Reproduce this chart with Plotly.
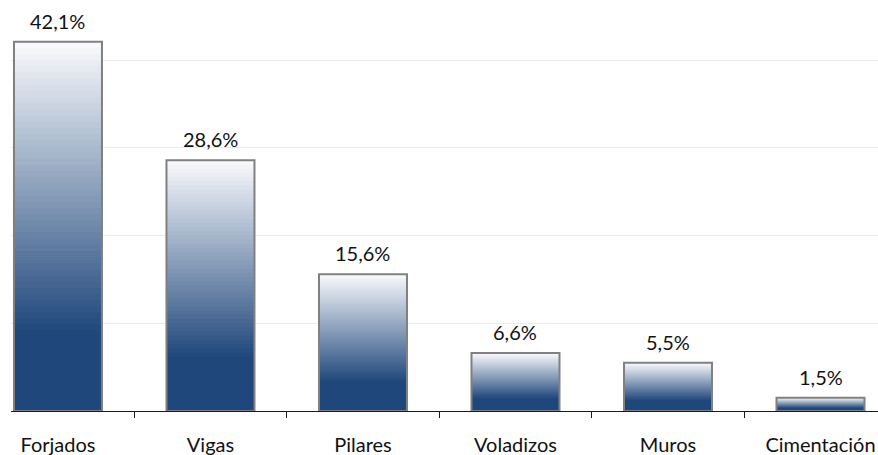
import plotly.graph_objects as go

categories = ["Forjados", "Vigas", "Pilares", "Voladizos", "Muros", "Cimentación"]
values = [42.1, 28.6, 15.6, 6.6, 5.5, 1.5]

TOP = (248, 249, 252)
DARK = (31, 71, 123)
SOLID_FRAC = 0.22
N = 60
BAR_W = 0.577
FONT = "Lato"

fig = go.Figure()

for k in range(N):
    frac = (N - k) / N  # top of this overlay bar as fraction of full height
    t = (frac - SOLID_FRAC) / (1 - SOLID_FRAC)
    t = max(0.0, min(1.0, t))
    c = tuple(round(DARK[i] + (TOP[i] - DARK[i]) * t) for i in range(3))
    fig.add_trace(go.Bar(
        x=categories,
        y=[v * frac for v in values],
        width=BAR_W,
        marker=dict(color="rgb(%d,%d,%d)" % c, line=dict(width=0)),
        hoverinfo="skip",
        showlegend=False,
    ))

fig.add_trace(go.Bar(
    x=categories,
    y=values,
    width=BAR_W,
    marker=dict(color="rgba(0,0,0,0)", line=dict(color="#808080", width=2)),
    hoverinfo="skip",
    showlegend=False,
))

for cat, v in zip(categories, values):
    fig.add_annotation(
        x=cat, y=v,
        text=("%.1f" % v).replace(".", ",") + "%",
        showarrow=False,
        yanchor="bottom",
        yshift=7,
        font=dict(family=FONT, size=20, color="#111111"),
    )

fig.update_layout(
    width=878,
    height=455,
    margin=dict(l=11, r=0, t=0, b=44, autoexpand=False),
    barmode="overlay",
    plot_bgcolor="white",
    paper_bgcolor="white",
    font=dict(family=FONT, size=20, color="#111111"),
    xaxis=dict(
        type="category",
        range=[-0.308, 5.377],
        automargin=False,
        showline=True,
        linecolor="#1a1a1a",
        linewidth=1,
        ticks="outside",
        tickson="boundaries",
        ticklen=6,
        tickcolor="#1a1a1a",
        tickwidth=1,
        showgrid=False,
        ticklabelstandoff=16,
        tickfont=dict(family=FONT, size=20, color="#111111"),
    ),
    yaxis=dict(
        range=[0, 46.86],
        automargin=False,
        showgrid=True,
        gridcolor="#ebebeb",
        gridwidth=1,
        dtick=10,
        zeroline=False,
        showticklabels=False,
        showline=False,
    ),
)

fig.write_html("out.html", config={"displayModeBar": False},
               post_script="document.body.style.margin='0';")
